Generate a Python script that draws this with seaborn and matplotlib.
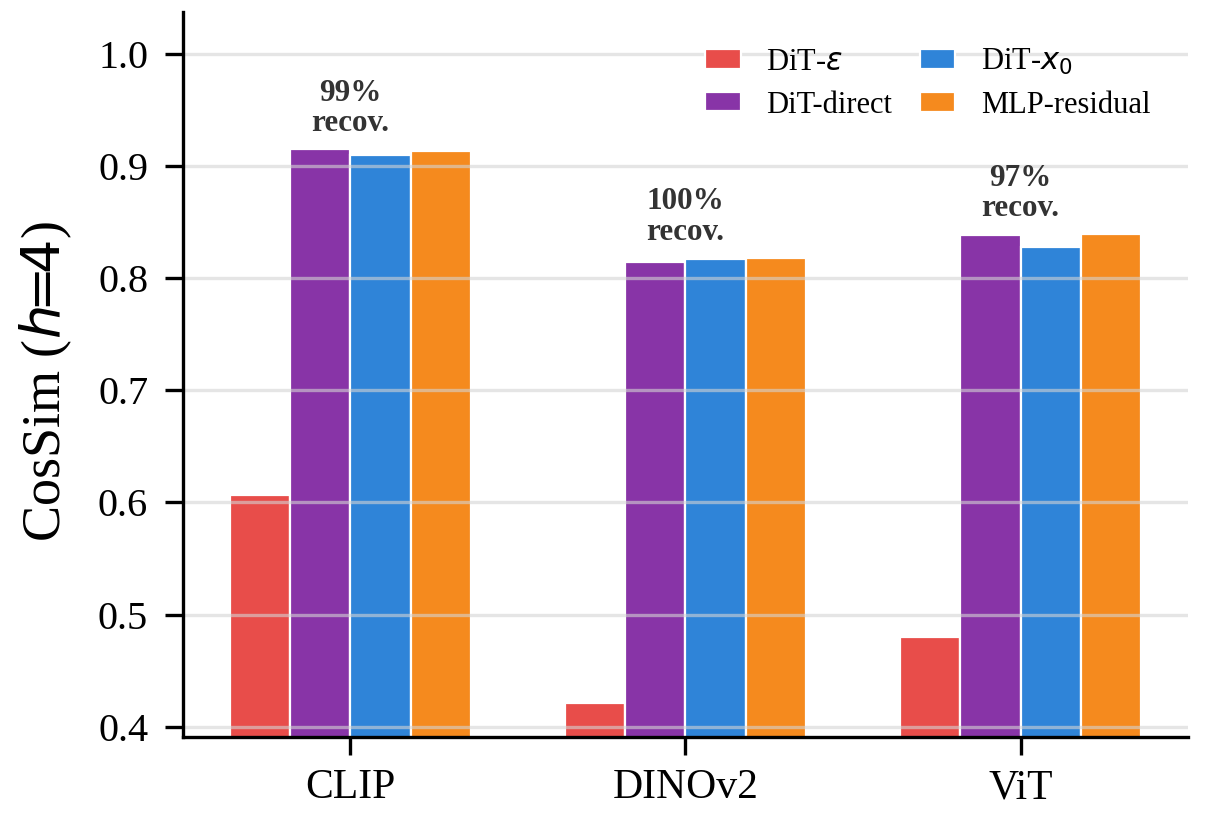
import numpy as np
import pandas as pd
import matplotlib
matplotlib.use("Agg")
import matplotlib.pyplot as plt
import seaborn as sns

# ---- data ----
categories = ["CLIP", "DINOv2", "ViT"]
series = [r"DiT-$\varepsilon$", "DiT-direct", r"DiT-$x_0$", "MLP-residual"]
dit_eps = [0.607, 0.421, 0.480]
dit_direct = [0.915, 0.814, 0.838]
dit_x0 = [0.910, 0.817, 0.828]
mlp_residual = [0.913, 0.818, 0.839]
recovery_labels = ["99%\nrecov.", "100%\nrecov.", "97%\nrecov."]
colors = ["#E84D4A", "#8834A7", "#2F84D8", "#F58A1E"]

values = [dit_eps, dit_direct, dit_x0, mlp_residual]
rows = []
for s, vals in zip(series, values):
    for c, v in zip(categories, vals):
        rows.append({"encoder": c, "model": s, "cossim": v})
df = pd.DataFrame(rows)

sns.set_style("ticks")
plt.rcParams["font.family"] = ["Liberation Serif", "DejaVu Serif"]
plt.rcParams["mathtext.fontset"] = "dejavusans"
for k in ["text.color", "axes.labelcolor", "xtick.color", "ytick.color", "axes.edgecolor"]:
    plt.rcParams[k] = "black"

fig = plt.figure(figsize=(6.07, 4.18), dpi=200)
ax = fig.add_axes([0.1507, 0.1184, 0.8279, 0.8672])

sns.barplot(data=df, x="encoder", y="cossim", hue="model", order=categories,
            hue_order=series, palette=colors, saturation=1, width=0.72,
            edgecolor="white", linewidth=0.8, ax=ax, zorder=2)

ax.set_ylim(0.391, 1.037)
ax.set_xlim(-0.5, 2.5)
ax.set_yticks([0.4, 0.5, 0.6, 0.7, 0.8, 0.9, 1.0])
ax.set_yticklabels(["0.4", "0.5", "0.6", "0.7", "0.8", "0.9", "1.0"])
ax.yaxis.grid(True, color="#d4d4d4", alpha=0.6, linewidth=1.2, zorder=3)
ax.set_axisbelow(False)
for ln in ax.get_ygridlines():
    ln.set_zorder(3)

ax.set_xlabel("")
ax.set_ylabel(r"CosSim ($h\!\!=\!\!4$)", fontsize=19.5, color="black")
ax.yaxis.set_label_coords(-0.108, 0.49)
ax.tick_params(axis="y", labelsize=14.5, length=6.5, width=1.2, pad=6, colors="black")
ax.tick_params(axis="x", labelsize=15, length=6.5, width=1.2, pad=5, colors="black")
sns.despine(ax=ax)
for sp in ["left", "bottom"]:
    ax.spines[sp].set_linewidth(1.2)
    ax.spines[sp].set_color("black")
    ax.spines[sp].set_zorder(4)

for i, lab in enumerate(recovery_labels):
    top = max(v[i] for v in values)
    ax.text(i, top + 0.01, lab, ha="center", va="bottom", fontsize=11.2,
            fontweight="bold", color="#333333", linespacing=1.05, zorder=5)

leg = ax.legend(ncol=2, frameon=False, fontsize=11, loc="upper right",
                bbox_to_anchor=(0.99, 0.99), handlelength=1.15, handleheight=0.6,
                handletextpad=0.85, columnspacing=0.9, labelspacing=0.45)
for t in leg.get_texts():
    t.set_color("black")

fig.savefig("out.png", dpi=200)
